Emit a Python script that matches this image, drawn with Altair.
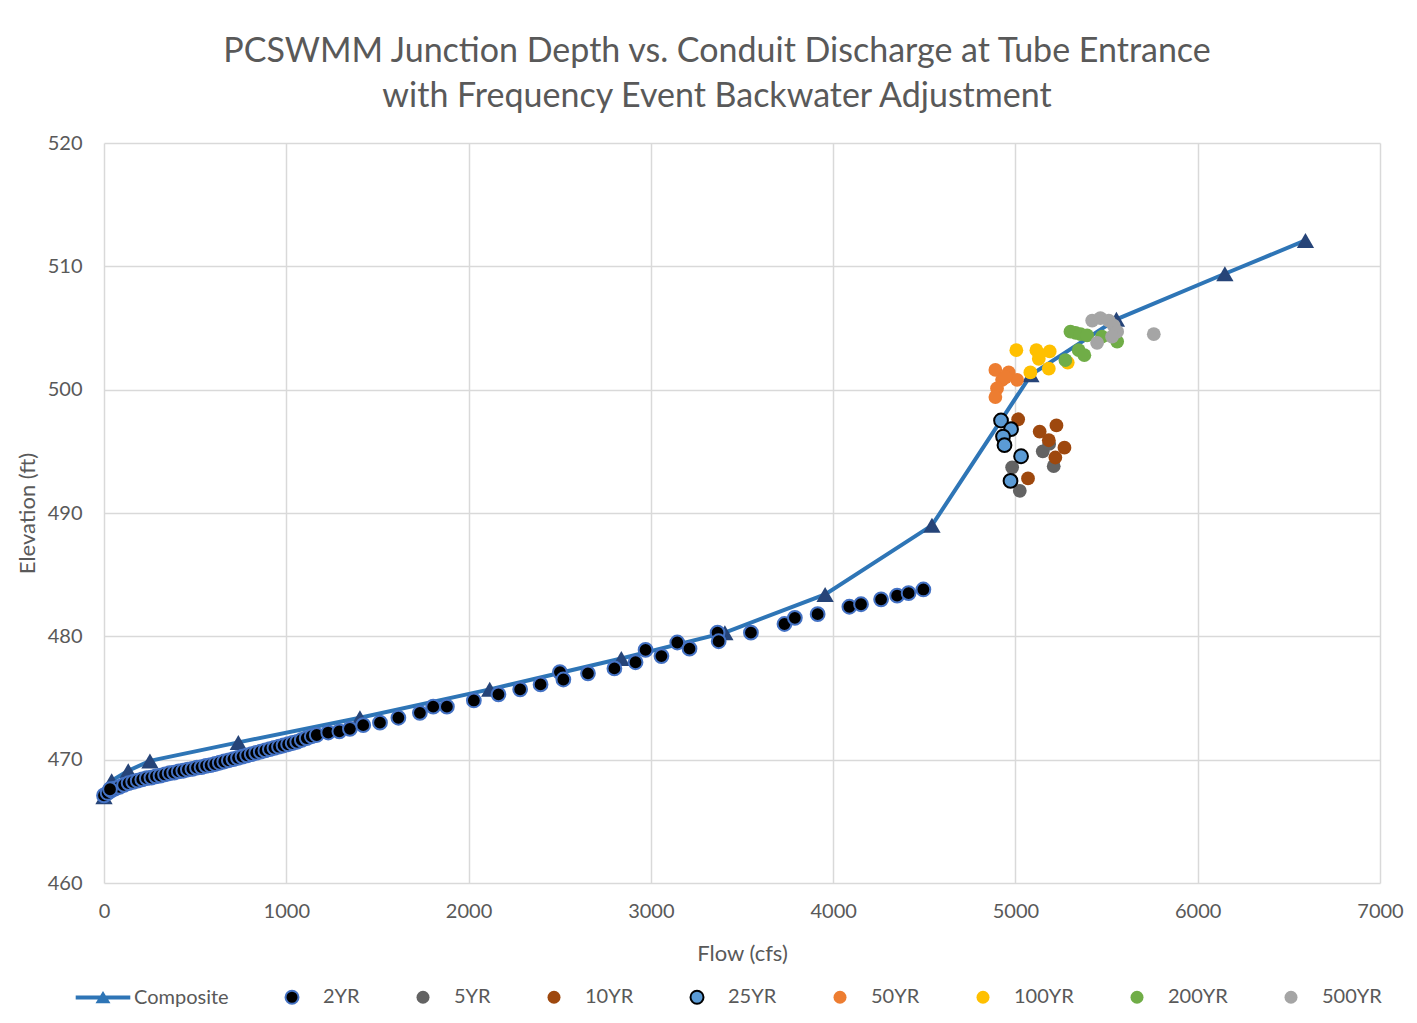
import altair as alt
import pandas as pd

SERIES = ["Composite", "2YR", "5YR", "10YR", "25YR", "50YR", "100YR", "200YR", "500YR"]
FILLS = ["#2E75B6", "#000000", "#636363", "#9E480E", "#5B9BD5", "#ED7D31", "#FFC000", "#70AD47", "#A5A5A5"]
STROKES = ["transparent", "#4472C4", "transparent", "transparent", "#000000",
           "transparent", "transparent", "transparent", "transparent"]

COMP_FLOW = [0, 42, 133, 252, 737, 1404, 2116, 2838, 3406, 3956, 4542, 5085, 5554, 6149, 6591]
COMP_ELEV = [467.0, 468.3, 469.1, 469.9, 471.4, 473.4, 475.7, 478.2, 480.3, 483.4, 489.0, 501.2, 505.7, 509.4, 512.1]

Y2_FLOW = [0, 20, 40, 60, 85, 110, 135, 160, 185, 210, 235, 260, 285, 310, 335, 360, 385,
           410, 435, 460, 485, 510, 535, 560, 585, 610, 635, 660, 685, 710, 735, 760, 785,
           810, 835, 860, 885, 910, 935, 960, 985, 1010, 1035, 1060, 1085, 1112, 1140,
           1167, 1230, 1291, 1349, 1422, 1514, 1615, 1733, 1806, 1881, 2029, 2164, 2283,
           2395, 2501, 2520, 2655, 2800, 2916, 2971, 3058, 3145, 3212, 3366, 3372, 3549,
           3733, 3790, 3915, 4089, 4153, 4263, 4351, 4414, 4495, 33]
Y2_ELEV = [467.1, 467.3, 467.5, 467.65, 467.8, 467.95, 468.1, 468.2, 468.3, 468.4, 468.5,
           468.55, 468.65, 468.7, 468.8, 468.9, 468.95, 469.05, 469.1, 469.2, 469.25, 469.35,
           469.4, 469.5, 469.55, 469.65, 469.75, 469.85, 469.95, 470.05, 470.15, 470.25,
           470.35, 470.45, 470.55, 470.65, 470.75, 470.85, 470.95, 471.05, 471.15, 471.25,
           471.35, 471.45, 471.6, 471.75, 471.9,
           472.0, 472.2, 472.3, 472.5, 472.8, 473.0, 473.4, 473.8, 474.3, 474.3, 474.8,
           475.3, 475.7, 476.1, 477.1, 476.5, 477.0, 477.4, 477.9, 478.9, 478.4, 479.5,
           479.0, 480.3, 479.6, 480.3, 481.0, 481.5, 481.8, 482.4, 482.6, 483.0, 483.3,
           483.5, 483.8, 467.6]

Y5_FLOW = [4982, 5024, 5150, 5185, 5210]
Y5_ELEV = [493.7, 491.8, 495.0, 495.6, 493.8]

Y10_FLOW = [5015, 5133, 5183, 5225, 5269, 5219, 5069]
Y10_ELEV = [497.6, 496.6, 495.9, 497.1, 495.3, 494.5, 492.8]

Y25_FLOW = [4921, 4976, 4932, 4940, 5031, 4973]
Y25_ELEV = [497.5, 496.8, 496.2, 495.5, 494.6, 492.6]

Y50_FLOW = [4890, 4963, 5009, 4927, 4899, 4890, 4945]
Y50_ELEV = [501.6, 501.4, 500.8, 500.8, 500.1, 499.4, 501.0]

Y100_FLOW = [5005, 5115, 5188, 5128, 5183, 5082, 5287, 5130]
Y100_ELEV = [503.2, 503.2, 503.1, 502.5, 501.7, 501.4, 502.2, 502.9]

Y200_FLOW = [5302, 5330, 5357, 5393, 5274, 5347, 5378, 5475, 5558]
Y200_ELEV = [504.7, 504.6, 504.5, 504.4, 502.4, 503.2, 502.8, 504.3, 503.9]

Y500_FLOW = [5421, 5466, 5512, 5539, 5558, 5448, 5530, 5759]
Y500_ELEV = [505.6, 505.8, 505.6, 505.2, 504.7, 503.8, 504.3, 504.5]

X_TICKS = [0, 1000, 2000, 3000, 4000, 5000, 6000, 7000]
Y_TICKS = [460, 470, 480, 490, 500, 510, 520]

comp_df = pd.DataFrame({"flow": COMP_FLOW, "elev": COMP_ELEV})

rows = []
for name, fl, el in [("2YR", Y2_FLOW, Y2_ELEV), ("5YR", Y5_FLOW, Y5_ELEV),
                     ("10YR", Y10_FLOW, Y10_ELEV), ("25YR", Y25_FLOW, Y25_ELEV),
                     ("50YR", Y50_FLOW, Y50_ELEV), ("100YR", Y100_FLOW, Y100_ELEV),
                     ("200YR", Y200_FLOW, Y200_ELEV), ("500YR", Y500_FLOW, Y500_ELEV)]:
    for f, e in zip(fl, el):
        rows.append({"series": name, "flow": f, "elev": e})
pts_df = pd.DataFrame(rows)

COMP_SYMBOL = "M-4.2,-0.3L4.2,-0.3L4.2,0.3L-4.2,0.3Z M0,-1.0L1.15,0.9L-1.15,0.9Z"
SHAPES = [COMP_SYMBOL] + ["circle"] * 8

x_enc = alt.X("flow:Q", title="Flow (cfs)",
              scale=alt.Scale(domain=[0, 7000], nice=False),
              axis=alt.Axis(values=X_TICKS, labelFlush=False, labelPadding=18,
                            titlePadding=22, format="d"))
y_enc = alt.Y("elev:Q", title="Elevation (ft)",
              scale=alt.Scale(domain=[460, 520], nice=False, zero=False),
              axis=alt.Axis(values=Y_TICKS, labelPadding=22, titlePadding=8, format="d"))

line = alt.Chart(comp_df).mark_line(color="#2E75B6", strokeWidth=4).encode(
    x=x_enc, y=y_enc, order="flow:Q")

tri = alt.Chart(comp_df).mark_point(shape="triangle-up", filled=True, size=300,
                                    color="#264478", opacity=1).encode(x="flow:Q", y="elev:Q")

pts = alt.Chart(pts_df).mark_point(filled=True, size=190, opacity=1, strokeWidth=2).encode(
    x="flow:Q", y="elev:Q",
    fill=alt.Fill("series:N", title=None, scale=alt.Scale(domain=SERIES, range=FILLS),
                  sort=SERIES),
    stroke=alt.Stroke("series:N", title=None, scale=alt.Scale(domain=SERIES, range=STROKES),
                      sort=SERIES),
    shape=alt.Shape("series:N", title=None, scale=alt.Scale(domain=SERIES, range=SHAPES),
                    sort=SERIES),
)

chart = alt.layer(line, tri, pts).properties(
    width=1276, height=740,
    autosize=alt.AutoSizeParams(type="none"),
    padding={"left": 96, "top": 135, "right": 29, "bottom": 132},
    title=alt.TitleParams(
        text=["PCSWMM Junction Depth vs. Conduit Discharge at Tube Entrance",
              "with Frequency Event Backwater Adjustment"],
        fontSize=34, font="Lato", fontWeight="normal", color="#595959",
        lineHeight=45, anchor="middle", dx=-25, offset=19),
).configure(font="Lato").configure_view(stroke=None).configure_axis(
    grid=True, gridColor="#D9D9D9", gridWidth=1.5, domain=False, ticks=False,
    labelFont="Lato", labelFontSize=20, labelColor="#595959",
    titleFont="Lato", titleFontSize=22, titleColor="#595959", titleFontWeight="normal",
).configure_legend(
    orient="none", direction="horizontal", legendX=-11, legendY=844,
    symbolSize=169, symbolStrokeWidth=2, labelOffset=21, columnPadding=52,
    labelFont="Lato", labelFontSize=20, labelColor="#595959", padding=0,
    symbolOpacity=1,
)

chart.save("out.html", embed_options={"renderer": "svg", "actions": False})
